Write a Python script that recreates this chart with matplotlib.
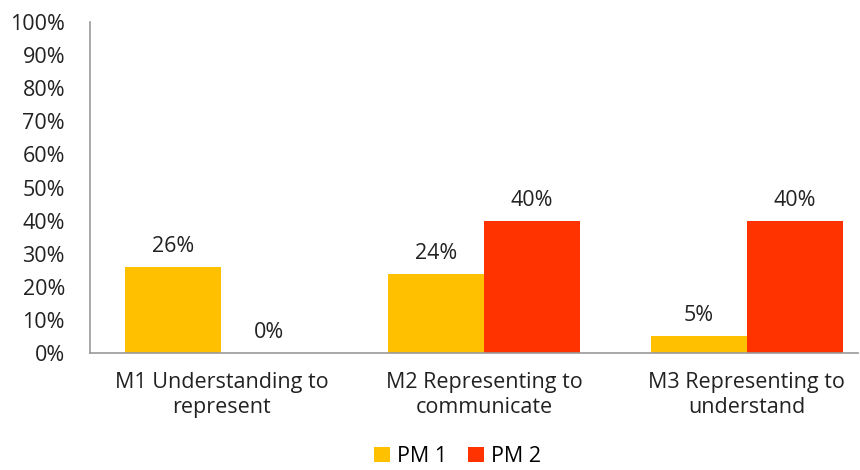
import matplotlib
matplotlib.use('Agg')
import matplotlib.pyplot as plt
import numpy as np

categories = ['M1 Understanding to\nrepresent', 'M2 Representing to\ncommunicate', 'M3 Representing to\nunderstand']
pm1 = [26, 24, 5]
pm2 = [0, 40, 40]
series_names = ['PM 1', 'PM 2']
colors = ['#FFC000', '#FF3300']

plt.rcParams['font.family'] = ['Open Sans', 'DejaVu Sans']
fs = 15.5

fig = plt.figure(figsize=(8.6, 4.7), dpi=100)
ax = fig.add_axes([90 / 860, 0.249, 768 / 860, 0.704])

x = np.arange(len(categories))
w = 0.365
b1 = ax.bar(x - w / 2, pm1, w, color=colors[0], label=series_names[0])
b2 = ax.bar(x + w / 2, pm2, w, color=colors[1], label=series_names[1])

for bars, vals in ((b1, pm1), (b2, pm2)):
    for bar, v in zip(bars, vals):
        ax.text(bar.get_x() + bar.get_width() / 2, v + 3, f'{v}%',
                ha='center', va='bottom', fontsize=fs, color='#222222')

ax.set_xlim(-0.5, 2.424)
ax.set_ylim(0, 100)
ax.set_yticks(range(0, 101, 10))
ax.set_yticklabels([f'{t}%' for t in range(0, 101, 10)], fontsize=fs, color='#222222')
ax.set_xticks(x)
ax.set_xticklabels(categories, fontsize=fs, color='#222222', linespacing=1.2)
ax.tick_params(axis='both', length=0)
ax.tick_params(axis='x', pad=14)
ax.tick_params(axis='y', pad=18)

for s in ('top', 'right'):
    ax.spines[s].set_visible(False)
for s in ('left', 'bottom'):
    ax.spines[s].set_color('#999999')
    ax.spines[s].set_linewidth(1.2)

fig.legend(loc='lower center', bbox_to_anchor=(0.532, -0.035), ncol=2, frameon=False,
           fontsize=fs, handlelength=0.75, handleheight=0.75, handletextpad=0.3,
           columnspacing=1.0)

fig.savefig('out.png', dpi=100)
